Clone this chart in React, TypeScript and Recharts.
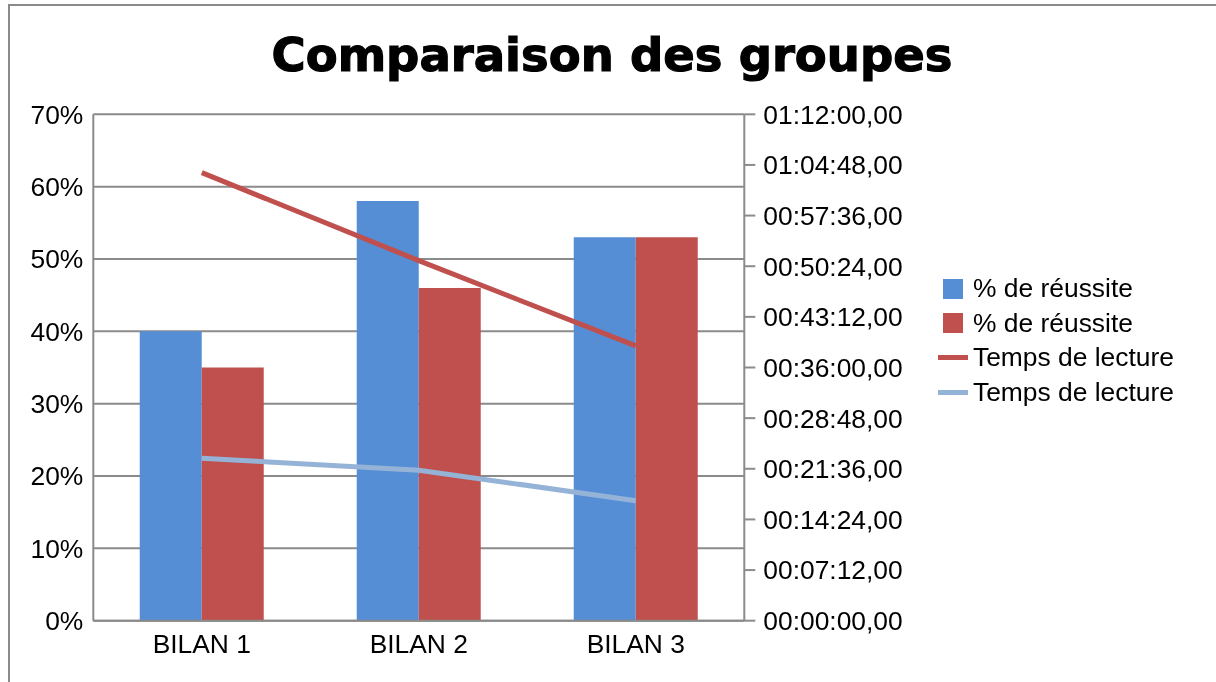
import React from "react";
import {
  ComposedChart,
  Bar,
  Line,
  XAxis,
  YAxis,
  CartesianGrid,
} from "recharts";

const categories = ["BILAN 1", "BILAN 2", "BILAN 3"];
const reussiteA = [40, 58, 53];
const reussiteB = [35, 46, 53];
// reading times, in seconds
const lectureA = [3822, 3072, 2344];
const lectureB = [1385, 1284, 1024];

const percentTicks = [0, 10, 20, 30, 40, 50, 60, 70];
const timeTicks = [0, 432, 864, 1296, 1728, 2160, 2592, 3024, 3456, 3888, 4320];

const series = [
  { name: "% de réussite", color: "#558ed5", kind: "bar" },
  { name: "% de réussite", color: "#c0504d", kind: "bar" },
  { name: "Temps de lecture", color: "#c0504d", kind: "line" },
  { name: "Temps de lecture", color: "#95b3d7", kind: "line" },
];

const data = categories.map((cat, i) => ({
  cat,
  r1: reussiteA[i],
  r2: reussiteB[i],
  t1: lectureA[i],
  t2: lectureB[i],
}));

const pad = (n: number) => String(n).padStart(2, "0");
const fmtTime = (s: number) => {
  const h = Math.floor(s / 3600);
  const m = Math.floor((s % 3600) / 60);
  const sec = Math.round(s % 60);
  return `${pad(h)}:${pad(m)}:${pad(sec)},00`;
};

const FONT = "'Liberation Sans', Arial, sans-serif";
const GRID = "#8b8b8b";
const FS = 26.4;
const tickStyle = { fill: "#000", fontSize: FS, fontFamily: FONT };

export default function App() {
  return (
    <div style={{ width: 1206, height: 660, position: "relative", background: "#fff" }}>
      {/* page frame */}
      <div
        style={{
          position: "fixed",
          left: 8,
          top: 4,
          width: 1208,
          height: 678,
          borderTop: "2px solid #8a8a8a",
          borderLeft: "2px solid #8a8a8a",
          boxSizing: "border-box",
          pointerEvents: "none",
        }}
      />

      <div
        style={{
          position: "absolute",
          top: 24,
          left: 2,
          width: 1204,
          textAlign: "center",
          fontFamily: "'DejaVu Sans', sans-serif",
          fontWeight: 700,
          fontSize: 46.5,
          lineHeight: "46px",
          color: "#000",
          WebkitTextStroke: "1.2px #000",
        }}
      >
        Comparaison des groupes
      </div>

      <div style={{ position: "absolute", left: 2, top: -2 }}>
        <ComposedChart
          width={1204}
          height={660}
          data={data}
          margin={{ top: 108.3, right: 299.7, bottom: 5.3, left: 0 }}
          barCategoryGap="21.4%"
          barGap={0}
        >
          <CartesianGrid
            yAxisId="pct"
            vertical={false}
            stroke={GRID}
            strokeWidth={2}
          />
          <XAxis
            dataKey="cat"
            height={40}
            tickLine={false}
            tickSize={6}
            tickMargin={7.5}
            axisLine={{ stroke: GRID, strokeWidth: 2 }}
            tick={tickStyle}
          />
          <YAxis
            yAxisId="pct"
            orientation="left"
            width={83.3}
            domain={[0, 70]}
            ticks={percentTicks}
            interval={0}
            tickFormatter={(v: number) => `${v}%`}
            tickLine={false}
            tickSize={6}
            tickMargin={4}
            axisLine={{ stroke: GRID, strokeWidth: 2 }}
            tick={tickStyle}
          />
          <YAxis
            yAxisId="time"
            orientation="right"
            width={170}
            domain={[0, 4320]}
            ticks={timeTicks}
            interval={0}
            tickFormatter={fmtTime}
            tickSize={11}
            tickMargin={8}
            tickLine={{ stroke: GRID, strokeWidth: 2 }}
            axisLine={{ stroke: GRID, strokeWidth: 2 }}
            tick={{ ...tickStyle, textAnchor: "start" }}
          />
          <Bar yAxisId="pct" dataKey="r1" fill={series[0].color} isAnimationActive={false} />
          <Bar yAxisId="pct" dataKey="r2" fill={series[1].color} isAnimationActive={false} />
          <Line
            yAxisId="time"
            dataKey="t1"
            stroke={series[2].color}
            strokeWidth={5}
            strokeLinecap="butt"
            dot={false}
            activeDot={false}
            isAnimationActive={false}
          />
          <Line
            yAxisId="time"
            dataKey="t2"
            stroke={series[3].color}
            strokeWidth={5}
            strokeLinecap="butt"
            dot={false}
            activeDot={false}
            isAnimationActive={false}
          />
        </ComposedChart>
      </div>

      {/* legend */}
      <div style={{ position: "absolute", left: 930, top: 263.5, fontFamily: FONT, fontSize: FS }}>
        {series.map((s, i) => (
          <div
            key={i}
            style={{ display: "flex", alignItems: "center", height: 34.5, whiteSpace: "nowrap" }}
          >
            <div style={{ width: 30, display: "flex", justifyContent: "center" }}>
              {s.kind === "bar" ? (
                <div style={{ width: 20, height: 20, background: s.color }} />
              ) : (
                <div style={{ width: 30, height: 5, background: s.color }} />
              )}
            </div>
            <span style={{ marginLeft: 5, color: "#000" }}>{s.name}</span>
          </div>
        ))}
      </div>
    </div>
  );
}
